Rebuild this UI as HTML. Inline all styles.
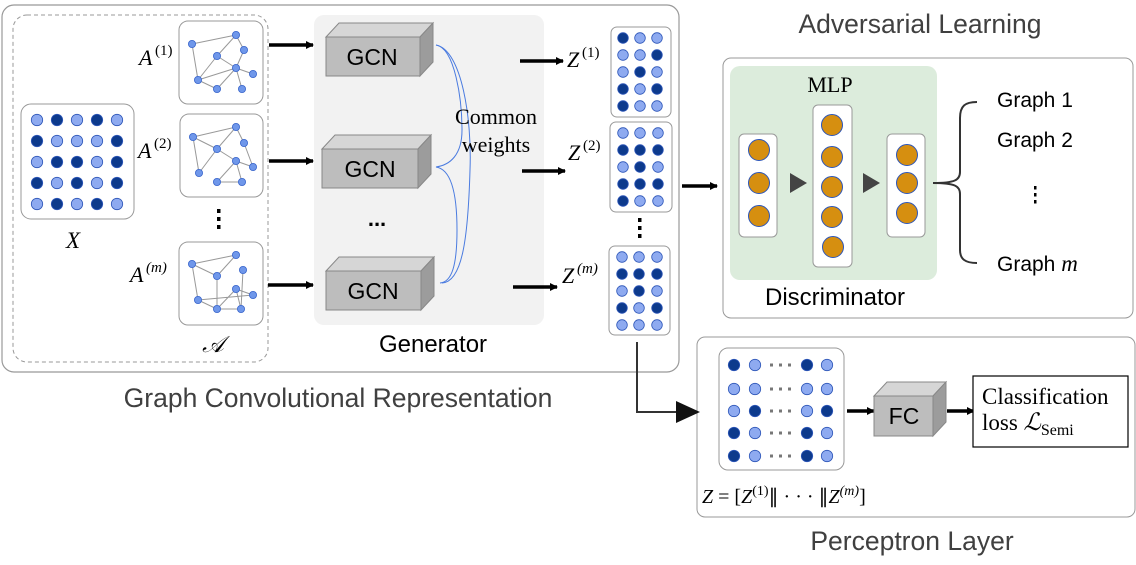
<!DOCTYPE html>
<html><head><meta charset="utf-8"><style>html,body{margin:0;padding:0;background:#fff}svg{display:block}</style></head>
<body>
<svg width="1136" height="565" viewBox="0 0 1136 565" xmlns="http://www.w3.org/2000/svg" font-family="Liberation Sans, sans-serif">
<defs>
<marker id="ah" markerWidth="8" markerHeight="8" refX="7" refY="4" orient="auto" markerUnits="userSpaceOnUse"><path d="M0,0 L8,4 L0,8 z" fill="#000"/></marker>
</defs>
<rect x="2" y="5" width="677" height="367" rx="12" fill="#fff" stroke="#999" stroke-width="1.2"/>
<rect x="13" y="15" width="255" height="347" rx="14" fill="none" stroke="#999" stroke-dasharray="4,3"/>
<rect x="314" y="15" width="230" height="310" rx="10" fill="#f2f2f2"/>
<rect x="21" y="104" width="113" height="115" rx="10" fill="#fff" stroke="#999"/>
<g stroke="#2c55b8" stroke-width="0.8">
<circle cx="37" cy="120" r="5.7" fill="#8eaaf0"/><circle cx="57" cy="120" r="5.7" fill="#0d3a8c"/><circle cx="77" cy="120" r="5.7" fill="#8eaaf0"/><circle cx="97" cy="120" r="5.7" fill="#0d3a8c"/><circle cx="117" cy="120" r="5.7" fill="#8eaaf0"/>
<circle cx="37" cy="141" r="5.7" fill="#0d3a8c"/><circle cx="57" cy="141" r="5.7" fill="#8eaaf0"/><circle cx="77" cy="141" r="5.7" fill="#8eaaf0"/><circle cx="97" cy="141" r="5.7" fill="#8eaaf0"/><circle cx="117" cy="141" r="5.7" fill="#0d3a8c"/>
<circle cx="37" cy="162" r="5.7" fill="#8eaaf0"/><circle cx="57" cy="162" r="5.7" fill="#0d3a8c"/><circle cx="77" cy="162" r="5.7" fill="#0d3a8c"/><circle cx="97" cy="162" r="5.7" fill="#8eaaf0"/><circle cx="117" cy="162" r="5.7" fill="#0d3a8c"/>
<circle cx="37" cy="183" r="5.7" fill="#0d3a8c"/><circle cx="57" cy="183" r="5.7" fill="#8eaaf0"/><circle cx="77" cy="183" r="5.7" fill="#0d3a8c"/><circle cx="97" cy="183" r="5.7" fill="#8eaaf0"/><circle cx="117" cy="183" r="5.7" fill="#0d3a8c"/>
<circle cx="37" cy="204" r="5.7" fill="#8eaaf0"/><circle cx="57" cy="204" r="5.7" fill="#0d3a8c"/><circle cx="77" cy="204" r="5.7" fill="#8eaaf0"/><circle cx="97" cy="204" r="5.7" fill="#0d3a8c"/><circle cx="117" cy="204" r="5.7" fill="#8eaaf0"/>
</g>
<text x="73" y="248" font-family="Liberation Serif, serif" font-style="italic" font-size="23" text-anchor="middle">X</text>
<g fill="#fff" stroke="#999"><rect x="179" y="21" width="84" height="83" rx="9"/><rect x="180" y="114" width="83" height="83" rx="9"/><rect x="179" y="242" width="84" height="83" rx="9"/></g>
<g stroke="#999" stroke-width="1" fill="none">
<path d="M192,44L236,35M192,44L198,80M236,35L217,56M236,35L244,50M244,50L236,68M217,56L236,68M217,56L198,80M198,80L236,68M198,80L217,89M236,68L217,89M236,68L253,74M236,68L242,89"/>
<path d="M193,137L236,127M193,137L199,173M193,137L217,149M236,127L217,149M236,127L244,143M244,143L253,167M217,149L236,161M217,149L199,173M236,161L217,182M217,182L242,182M236,161L242,182M236,161L253,167"/>
<path d="M192,264L236,255M192,264L198,300M236,255L217,276M192,264L217,276M243,270L241,309M217,276L217,309M198,300L253,295M198,300L217,309M217,309L236,289M236,289L241,309M217,309L241,309M236,289L253,295"/>
</g>
<g fill="#6f97ea" stroke="#3a66cc" stroke-width="0.8">
<circle cx="192" cy="44" r="3.6"/><circle cx="236" cy="35" r="3.6"/><circle cx="244" cy="50" r="3.6"/><circle cx="217" cy="56" r="3.6"/><circle cx="236" cy="68" r="3.6"/><circle cx="253" cy="74" r="3.6"/><circle cx="198" cy="80" r="3.6"/><circle cx="217" cy="89" r="3.6"/><circle cx="242" cy="89" r="3.6"/>
<circle cx="193" cy="137" r="3.6"/><circle cx="236" cy="127" r="3.6"/><circle cx="244" cy="143" r="3.6"/><circle cx="217" cy="149" r="3.6"/><circle cx="236" cy="161" r="3.6"/><circle cx="253" cy="167" r="3.6"/><circle cx="199" cy="173" r="3.6"/><circle cx="217" cy="182" r="3.6"/><circle cx="242" cy="182" r="3.6"/>
<circle cx="192" cy="264" r="3.6"/><circle cx="236" cy="255" r="3.6"/><circle cx="243" cy="270" r="3.6"/><circle cx="217" cy="276" r="3.6"/><circle cx="236" cy="289" r="3.6"/><circle cx="253" cy="295" r="3.6"/><circle cx="198" cy="300" r="3.6"/><circle cx="217" cy="309" r="3.6"/><circle cx="241" cy="309" r="3.6"/>
</g>
<g font-family="Liberation Serif, serif" font-size="22"><text x="139" y="65" font-style="italic">A</text><text x="155" y="55" font-size="15">(1)</text>
<text x="138" y="158" font-style="italic">A</text><text x="154" y="148" font-size="15">(2)</text>
<text x="130" y="282" font-style="italic">A</text><text x="146" y="272" font-size="15" font-style="italic">(m)</text>
<text x="213" y="352" font-style="italic" font-size="23" text-anchor="middle">𝒜</text></g>
<g fill="#000"><rect x="217" y="209" width="3.5" height="4"/><rect x="217" y="217" width="3.5" height="4"/><rect x="217" y="225" width="3.5" height="4"/></g>
<g stroke="#000" stroke-width="3.5" marker-end="url(#ah)"><line x1="269" y1="45" x2="313" y2="45"/><line x1="269" y1="161" x2="313" y2="161"/><line x1="268" y1="285" x2="313" y2="285"/></g>
<g stroke="#888" stroke-width="1">
<g><path d="M326,37L339,23L433,23L420,37z" fill="#d6d6d6"/><path d="M420,37L433,23L433,62L420,76z" fill="#9c9c9c"/><rect x="326" y="37" width="94" height="39" fill="#bdbdbd"/></g>
<g><path d="M322,149L335,135L431,135L418,149z" fill="#d6d6d6"/><path d="M418,149L431,135L431,174L418,188z" fill="#9c9c9c"/><rect x="322" y="149" width="96" height="39" fill="#bdbdbd"/></g>
<g><path d="M326,271L339,257L434,257L421,271z" fill="#d6d6d6"/><path d="M421,271L434,257L434,296L421,310z" fill="#9c9c9c"/><rect x="326" y="271" width="95" height="39" fill="#bdbdbd"/></g>
</g>
<g font-size="23" text-anchor="middle"><text x="372" y="65">GCN</text><text x="370" y="177">GCN</text><text x="373" y="299">GCN</text></g>
<text x="377" y="226" font-size="22" text-anchor="middle" font-weight="bold">...</text>
<text x="433" y="352" font-size="24" text-anchor="middle">Generator</text>
<g fill="none" stroke="#4a7be0" stroke-width="1"><path d="M436,45C455,48 462,100 462,130C462,155 450,165 436,167C450,169 457,190 457,230C457,265 452,282 440,283"/>
<path d="M436,45C462,50 472,120 470,170C468,240 462,282 442,283"/></g>
<g font-family="Liberation Serif, serif" font-size="22" text-anchor="middle"><text x="496" y="124">Common</text><text x="496" y="152">weights</text></g>
<g stroke="#000" stroke-width="3.5" marker-end="url(#ah)"><line x1="520" y1="61" x2="563" y2="61"/><line x1="522" y1="171" x2="565" y2="171"/><line x1="513" y1="287" x2="557" y2="287"/><line x1="682" y1="186" x2="717" y2="186"/></g>
<g font-family="Liberation Serif, serif" font-size="22"><text x="567" y="67" font-style="italic">Z</text><text x="582" y="57" font-size="15">(1)</text>
<text x="568" y="160" font-style="italic">Z</text><text x="583" y="150" font-size="15">(2)</text>
<text x="562" y="283" font-style="italic">Z</text><text x="577" y="273" font-size="15" font-style="italic">(m)</text></g>
<g fill="#fff" stroke="#999"><rect x="611" y="27" width="60" height="90" rx="6"/><rect x="610" y="122" width="62" height="90" rx="6"/><rect x="609" y="246" width="61" height="89" rx="6"/></g>
<g stroke="#2c55b8" stroke-width="0.8">
<circle cx="623" cy="38" r="5.3" fill="#0d3a8c"/><circle cx="640" cy="38" r="5.3" fill="#8eaaf0"/><circle cx="657" cy="38" r="5.3" fill="#8eaaf0"/>
<circle cx="623" cy="55" r="5.3" fill="#8eaaf0"/><circle cx="640" cy="55" r="5.3" fill="#8eaaf0"/><circle cx="657" cy="55" r="5.3" fill="#0d3a8c"/>
<circle cx="623" cy="72" r="5.3" fill="#8eaaf0"/><circle cx="640" cy="72" r="5.3" fill="#0d3a8c"/><circle cx="657" cy="72" r="5.3" fill="#8eaaf0"/>
<circle cx="623" cy="89" r="5.3" fill="#0d3a8c"/><circle cx="640" cy="89" r="5.3" fill="#8eaaf0"/><circle cx="657" cy="89" r="5.3" fill="#0d3a8c"/>
<circle cx="623" cy="106" r="5.3" fill="#0d3a8c"/><circle cx="640" cy="106" r="5.3" fill="#8eaaf0"/><circle cx="657" cy="106" r="5.3" fill="#8eaaf0"/>
<circle cx="623" cy="133" r="5.3" fill="#8eaaf0"/><circle cx="640" cy="133" r="5.3" fill="#8eaaf0"/><circle cx="658" cy="133" r="5.3" fill="#8eaaf0"/>
<circle cx="623" cy="150" r="5.3" fill="#0d3a8c"/><circle cx="640" cy="150" r="5.3" fill="#0d3a8c"/><circle cx="658" cy="150" r="5.3" fill="#0d3a8c"/>
<circle cx="623" cy="167" r="5.3" fill="#8eaaf0"/><circle cx="640" cy="167" r="5.3" fill="#0d3a8c"/><circle cx="658" cy="167" r="5.3" fill="#8eaaf0"/>
<circle cx="623" cy="184" r="5.3" fill="#0d3a8c"/><circle cx="640" cy="184" r="5.3" fill="#0d3a8c"/><circle cx="658" cy="184" r="5.3" fill="#0d3a8c"/>
<circle cx="623" cy="201" r="5.3" fill="#0d3a8c"/><circle cx="640" cy="201" r="5.3" fill="#8eaaf0"/><circle cx="658" cy="201" r="5.3" fill="#8eaaf0"/>
<circle cx="622" cy="257" r="5.3" fill="#8eaaf0"/><circle cx="639" cy="257" r="5.3" fill="#8eaaf0"/><circle cx="657" cy="257" r="5.3" fill="#8eaaf0"/>
<circle cx="622" cy="274" r="5.3" fill="#0d3a8c"/><circle cx="639" cy="274" r="5.3" fill="#0d3a8c"/><circle cx="657" cy="274" r="5.3" fill="#0d3a8c"/>
<circle cx="622" cy="291" r="5.3" fill="#8eaaf0"/><circle cx="639" cy="291" r="5.3" fill="#0d3a8c"/><circle cx="657" cy="291" r="5.3" fill="#8eaaf0"/>
<circle cx="622" cy="308" r="5.3" fill="#0d3a8c"/><circle cx="639" cy="308" r="5.3" fill="#8eaaf0"/><circle cx="657" cy="308" r="5.3" fill="#0d3a8c"/>
<circle cx="622" cy="325" r="5.3" fill="#8eaaf0"/><circle cx="639" cy="325" r="5.3" fill="#8eaaf0"/><circle cx="657" cy="325" r="5.3" fill="#8eaaf0"/>
</g>
<g fill="#000"><rect x="638" y="218" width="3.5" height="4"/><rect x="638" y="226" width="3.5" height="4"/><rect x="638" y="234" width="3.5" height="4"/></g>
<text x="338" y="407" font-size="26.5" fill="#404040" text-anchor="middle">Graph Convolutional Representation</text>
<text x="920" y="33" font-size="26.5" fill="#404040" text-anchor="middle">Adversarial Learning</text>
<rect x="723" y="58" width="410" height="260" rx="8" fill="#fff" stroke="#999"/>
<rect x="730" y="66" width="207" height="214" rx="10" fill="#dcecdc"/>
<text x="830" y="92" font-family="Liberation Serif, serif" font-size="22" text-anchor="middle">MLP</text>
<g fill="#fff" stroke="#999"><rect x="739" y="134" width="38" height="103" rx="5"/><rect x="813" y="105" width="39" height="162" rx="5"/><rect x="887" y="134" width="38" height="103" rx="5"/></g>
<g fill="#d68f10" stroke="#2c55b8" stroke-width="1">
<circle cx="759" cy="150" r="10.5"/><circle cx="759" cy="183" r="10.5"/><circle cx="759" cy="216" r="10.5"/>
<circle cx="832" cy="125" r="10.5"/><circle cx="832" cy="157" r="10.5"/><circle cx="832" cy="187" r="10.5"/><circle cx="832" cy="217" r="10.5"/><circle cx="833" cy="247" r="10.5"/>
<circle cx="907" cy="155" r="10.5"/><circle cx="907" cy="183" r="10.5"/><circle cx="907" cy="213" r="10.5"/>
</g>
<g fill="#444"><path d="M790,173L807,183L790,193z"/><path d="M863,173L880,183L863,193z"/></g>
<path d="M977,102C965,102 960,106 960,118L960,172C960,180 955,183 933,183C955,183 960,186 960,194L960,250C960,259 965,263 977,263" fill="none" stroke="#333" stroke-width="2"/>
<text x="835" y="305" font-size="24" text-anchor="middle">Discriminator</text>
<g font-size="21"><text x="997" y="107">Graph 1</text><text x="997" y="147">Graph 2</text><text x="997" y="271">Graph <tspan font-family="Liberation Serif, serif" font-style="italic" font-size="23">m</tspan></text></g>
<g fill="#000"><rect x="1034" y="186" width="2.5" height="3.5"/><rect x="1034" y="193" width="2.5" height="3.5"/><rect x="1034" y="200" width="2.5" height="3.5"/></g>
<rect x="697" y="337" width="438" height="180" rx="8" fill="#fff" stroke="#999"/>
<path d="M637,342L637,412L678,412" fill="none" stroke="#333" stroke-width="2"/>
<path d="M676,401L700,412L676,423z" fill="#111"/>
<rect x="719" y="348" width="125" height="122" rx="9" fill="#fff" stroke="#999"/>
<g stroke="#2c55b8" stroke-width="0.8">
<circle cx="734" cy="365" r="5.7" fill="#0d3a8c"/><circle cx="755" cy="365" r="5.7" fill="#8eaaf0"/><circle cx="807" cy="365" r="5.7" fill="#0d3a8c"/><circle cx="827" cy="365" r="5.7" fill="#8eaaf0"/>
<circle cx="734" cy="389" r="5.7" fill="#8eaaf0"/><circle cx="755" cy="389" r="5.7" fill="#8eaaf0"/><circle cx="807" cy="389" r="5.7" fill="#8eaaf0"/><circle cx="827" cy="389" r="5.7" fill="#8eaaf0"/>
<circle cx="734" cy="411" r="5.7" fill="#8eaaf0"/><circle cx="755" cy="411" r="5.7" fill="#0d3a8c"/><circle cx="807" cy="411" r="5.7" fill="#8eaaf0"/><circle cx="827" cy="411" r="5.7" fill="#0d3a8c"/>
<circle cx="734" cy="433" r="5.7" fill="#0d3a8c"/><circle cx="755" cy="433" r="5.7" fill="#8eaaf0"/><circle cx="807" cy="433" r="5.7" fill="#0d3a8c"/><circle cx="827" cy="433" r="5.7" fill="#8eaaf0"/>
<circle cx="734" cy="456" r="5.7" fill="#0d3a8c"/><circle cx="755" cy="456" r="5.7" fill="#8eaaf0"/><circle cx="807" cy="456" r="5.7" fill="#0d3a8c"/><circle cx="827" cy="456" r="5.7" fill="#8eaaf0"/>
</g>
<g stroke="#777" stroke-width="3" stroke-dasharray="3,6"><line x1="770" y1="365" x2="794" y2="365"/><line x1="770" y1="389" x2="794" y2="389"/><line x1="770" y1="411" x2="794" y2="411"/><line x1="770" y1="433" x2="794" y2="433"/><line x1="770" y1="456" x2="794" y2="456"/></g>
<g stroke="#000" stroke-width="3.5" marker-end="url(#ah)"><line x1="847" y1="411" x2="874" y2="411"/><line x1="947" y1="411" x2="974" y2="411"/></g>
<g stroke="#888"><path d="M874,396L887,382L946,382L933,396z" fill="#d6d6d6"/><path d="M933,396L946,382L946,422L933,436z" fill="#9c9c9c"/><rect x="874" y="396" width="59" height="40" fill="#bdbdbd"/></g>
<text x="904" y="424" font-size="23" text-anchor="middle">FC</text>
<rect x="973" y="376" width="155" height="71" fill="#fff" stroke="#000" stroke-width="1.2"/>
<g font-family="Liberation Serif, serif" font-size="23"><text x="982" y="404">Classification</text><text x="982" y="430">loss <tspan font-style="italic" font-size="24">ℒ</tspan><tspan font-size="16" dy="5">Semi</tspan></text></g>
<text x="702" y="503" font-family="Liberation Serif, serif" font-size="20"><tspan font-style="italic">Z</tspan> = [<tspan font-style="italic">Z</tspan><tspan font-size="14" dy="-8">(1)</tspan><tspan dy="8">∥ · · · ∥</tspan><tspan font-style="italic">Z</tspan><tspan font-size="14" dy="-8" font-style="italic">(m)</tspan><tspan dy="8">]</tspan></text>
<text x="912" y="550" font-size="26.5" fill="#404040" text-anchor="middle">Perceptron Layer</text>
</svg>
</body></html>
